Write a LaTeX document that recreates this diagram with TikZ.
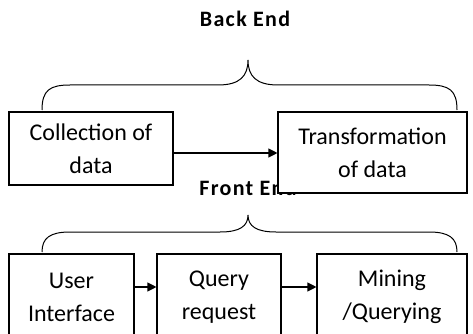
\documentclass[tikz,border=0pt]{standalone}
\usepackage{fontspec}
\setmainfont{Carlito}
\newfontfamily\headfont[LetterSpace=6]{Carlito}
\usetikzlibrary{arrows.meta}
\tikzset{
  stage/.style={draw, fill=white, line width=1.1pt, align=center, inner sep=0pt,
    font=\fontsize{24}{33}\selectfont},
  flow/.style={line width=1.1pt, -{Triangle[length=9pt,width=9pt]}},
  brace/.style={line width=1pt},
  heading/.style={font=\headfont\bfseries\fontsize{22}{24}\selectfont, inner sep=0pt}
}
\begin{document}
\begin{tikzpicture}[x=1pt,y=-1pt]
\useasboundingbox (0,0) rectangle (473,334);
\clip (0,0) rectangle (473,334);
\fill[white] (0,0) rectangle (473,334);

% back end group
\node[heading, anchor=base] (backlbl) at (245,27) {Back End};
\draw[brace] (42,110) .. controls (42,90) and (50,85) .. (70,85) -- (218,85)
  .. controls (240,85) and (248,76) .. (248,60)
  .. controls (248,76) and (256,85) .. (278,85) -- (429,85)
  .. controls (449,85) and (457,90) .. (457,110);

% front end group (label partly hidden by the box above it)
\node[heading, anchor=base] (frontlbl) at (248,195) {Front End};
\draw[brace] (42,252) .. controls (42,238) and (50,232) .. (70,232) -- (220,232)
  .. controls (240,232) and (248,226) .. (248,215)
  .. controls (248,226) and (256,232) .. (276,232) -- (429,232)
  .. controls (449,232) and (457,238) .. (457,252);

\node[stage, minimum width=164pt, minimum height=73pt] (collect) at (91,148.5) {Collection of\\data};
\node[stage, minimum width=189pt, minimum height=81pt] (transform) at (372.5,152.5) {Transformation\\of data};

\node[stage, minimum width=125pt, minimum height=86pt] (ui) at (71.5,297) {User\\Interface};
\node[stage, minimum width=124pt, minimum height=86pt] (query) at (219,297) {Query\\request};
\node[stage, minimum width=150pt, minimum height=86pt] (mining) at (392,297) {Mining\\/Querying};

\draw[flow] (collect.east |- 0,153) -- (transform.west |- 0,153);
\draw[flow] (ui.east |- 0,287) -- (query.west |- 0,287);
\draw[flow] (query.east |- 0,287) -- (mining.west |- 0,287);
\end{tikzpicture}
\end{document}
